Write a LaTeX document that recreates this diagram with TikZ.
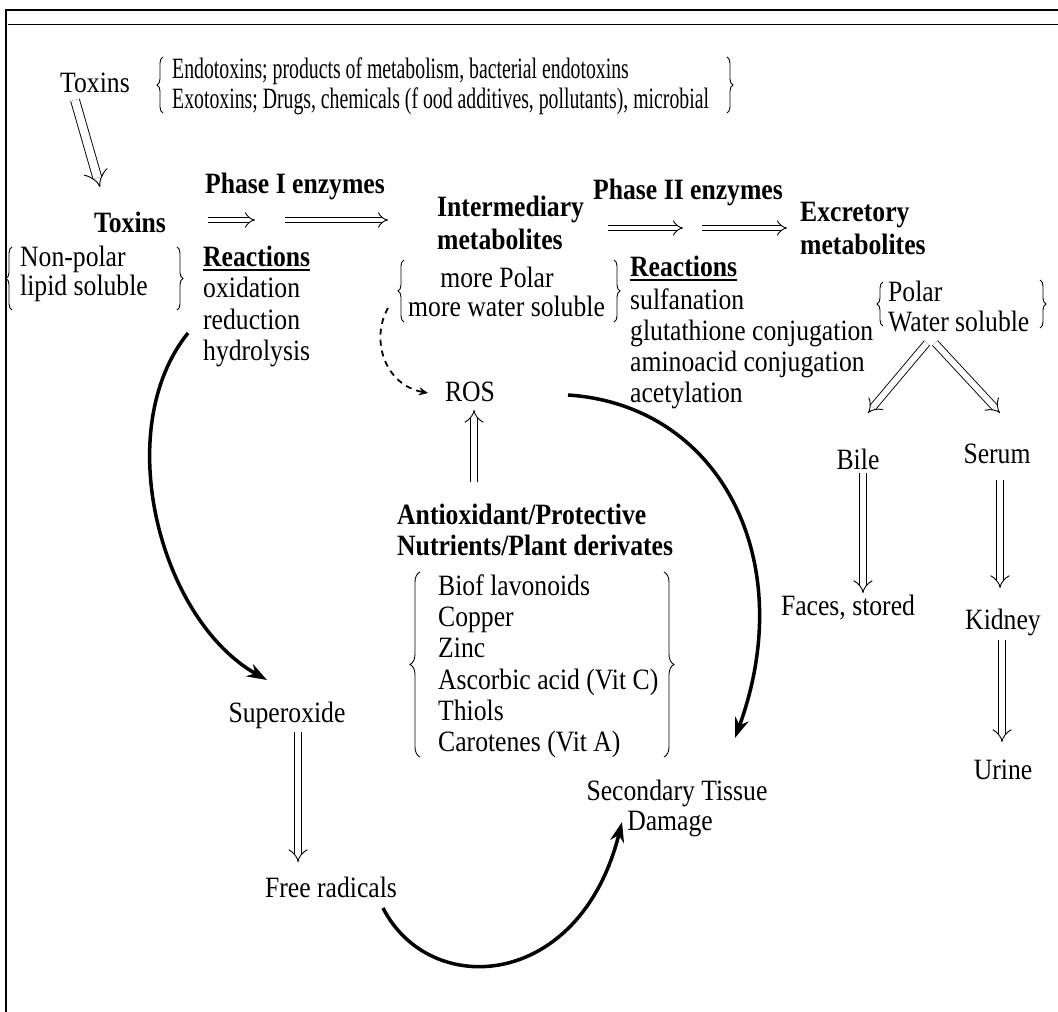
\documentclass[tikz,border=0pt]{standalone}
\usepackage{fontspec}
\setmainfont{Liberation Serif}[FakeStretch=0.87]
\usetikzlibrary{arrows.meta,decorations.pathreplacing}
\begin{document}
\begin{tikzpicture}[x=1pt,y=-1pt,
  txt/.style={inner sep=0pt,font=\fontsize{29.5}{31}\selectfont},
  btxt/.style={inner sep=0pt,font=\fontsize{29.5}{31}\selectfont\bfseries},
  hol/.style={double,double distance=6pt,line width=0.9pt,-{Implies}},
  holbig/.style={double,double distance=8pt,line width=0.9pt,-{Implies}},
  holthin/.style={double,double distance=4.5pt,line width=0.9pt,-{Implies}},
  bigcurve/.style={line width=3.5pt,-{Stealth[length=20pt,width=14pt]}},
  dashcurve/.style={line width=1.8pt,dash pattern=on 6pt off 5pt,-{Stealth[length=9pt,width=8pt]}},
  brc/.style={decorate,decoration={brace,amplitude=6pt},line width=0.9pt},
  brcbig/.style={decorate,decoration={brace,amplitude=10pt},line width=0.9pt}
]
\useasboundingbox (0,0) rectangle (1058,1012);
% frame
\draw[line width=2.5pt] (6,1012) -- (6,10) -- (1058,10);
\draw[line width=1pt] (8,24) -- (1058,24);

% top toxins
\node[txt,anchor=base] (tox0) at (95,92) {Toxins};
\node[txt,anchor=base west] (endo) at (172,78) {\scalebox{0.77}[1]{Endotoxins; products of metabolism, bacterial endotoxins}};
\node[txt,anchor=base west] (exo) at (172,108) {\scalebox{0.77}[1]{Exotoxins; Drugs, chemicals (f ood additives, pollutants), microbial}};
\draw[brc] (163,113) -- (163,57);
\draw[brc] (727,57) -- (727,113);

\node[btxt,anchor=base] (tox1) at (130,232) {Toxins};
\draw[holbig] (75,100) -- (100,187);

\node[btxt,anchor=base] (ph1) at (295,193) {Phase I enzymes};
\draw[holthin] (208,220) -- (255,220);
\draw[holthin] (285,220) -- (388,220);

\node[txt,anchor=base west] (np1) at (20,266) {Non-polar};
\node[txt,anchor=base west] (np2) at (20,295) {lipid soluble};
\draw[brc] (12,310) -- (12,247);
\draw[brc] (177,247) -- (177,310);

\node[btxt,anchor=base west] (re1) at (203,266) {Reactions};
\draw[line width=2pt] ([yshift=-4pt]re1.base west) -- ([yshift=-4pt]re1.base east);
\node[txt,anchor=base west] (ox) at (203,297) {oxidation};
\node[txt,anchor=base west] (rd) at (203,329) {reduction};
\node[txt,anchor=base west] (hy) at (203,360) {hydrolysis};

\node[btxt,anchor=base west] (im1) at (437,216) {Intermediary};
\node[btxt,anchor=base west] (im2) at (437,249) {metabolites};
\node[txt,anchor=base] (mp1) at (497,287) {more Polar};
\node[txt,anchor=base west] (mp2) at (408,316) {more water soluble};
\draw[brc] (404,322) -- (404,260);
\draw[brc] (614,260) -- (614,322);

\node[btxt,anchor=base] (ph2) at (688,199) {Phase II enzymes};
\draw[holthin] (608,228) -- (683,228);
\draw[holthin] (702,228) -- (787,228);

\node[btxt,anchor=base west] (re2) at (630,276) {Reactions};
\draw[line width=2pt] ([yshift=-4pt]re2.base west) -- ([yshift=-4pt]re2.base east);
\node[txt,anchor=base west] (s1) at (630,309) {sulfanation};
\node[txt,anchor=base west] (s2) at (630,340) {glutathione conjugation};
\node[txt,anchor=base west] (s3) at (630,371) {aminoacid conjugation};
\node[txt,anchor=base west] (s4) at (630,402) {acetylation};

\node[btxt,anchor=base west] (ex1) at (800,221) {Excretory};
\node[btxt,anchor=base west] (ex2) at (800,254) {metabolites};
\node[txt,anchor=base west] (po1) at (888,301) {Polar};
\node[txt,anchor=base west] (po2) at (888,331) {Water soluble};
\draw[brc] (883,326) -- (883,282);
\draw[brc] (1040,280) -- (1040,328);

\node[txt,anchor=base] (bile) at (858,469) {Bile};
\node[txt,anchor=base] (serum) at (997,463) {Serum};
\node[txt,anchor=base] (faces) at (848,615) {Faces, stored};
\node[txt,anchor=base] (kid) at (1003,629) {Kidney};
\node[txt,anchor=base] (urine) at (1003,779) {Urine};
\coordinate (vtop1) at (927,343);
\coordinate (vtop2) at (935,343);
\draw[hol] (vtop1) -- (868,413);
\draw[hol] (vtop2) -- (1000,413);
\draw[hol] (863,473) -- (863,593);
\draw[hol] (1000,480) -- (1000,588);
\draw[hol] (1002,640) -- (1002,742);

\node[txt,anchor=base] (ros) at (470,401) {ROS};
\node[btxt,anchor=base west] (an1) at (397,524) {Antioxidant/Protective};
\node[btxt,anchor=base west] (an2) at (397,555) {Nutrients/Plant derivates};
\draw[hol] (474,482) -- (474,410);

\node[txt,anchor=base west] (l1) at (438,595) {Biof lavonoids};
\node[txt,anchor=base west] (l2) at (438,626) {Copper};
\node[txt,anchor=base west] (l3) at (438,657) {Zinc};
\node[txt,anchor=base west] (l4) at (438,689) {Ascorbic acid (Vit C)};
\node[txt,anchor=base west] (l5) at (438,720) {Thiols};
\node[txt,anchor=base west] (l6) at (438,751) {Carotenes (Vit A)};
\draw[brcbig] (420,757) -- (420,572);
\draw[brcbig] (664,572) -- (664,757);

\node[txt,anchor=base] (sup) at (287,722) {Superoxide};
\node[txt,anchor=base] (free) at (331,897) {Free radicals};
\draw[hol] (298,732) -- (298,862);

\node[txt,anchor=base] (sec1) at (677,800) {Secondary Tissue};
\node[txt,anchor=base] (sec2) at (670,830) {Damage};

% curves
\coordinate (c1s) at (188,333);
\coordinate (c1e) at (267,680);
\draw[bigcurve] (c1s) .. controls (110,430) and (160,620) .. (c1e);
\coordinate (c2s) at (568,395);
\coordinate (c2e) at (735,738);
\draw[bigcurve] (c2s) .. controls (720,405) and (800,560) .. (c2e);
\coordinate (c3s) at (383,908);
\coordinate (c3e) at (622,822);
\draw[bigcurve] (c3s) .. controls (430,1000) and (580,990) .. (c3e);
\coordinate (d1s) at (388,308);
\coordinate (d1e) at (428,393);
\draw[dashcurve] (d1s) .. controls (370,340) and (385,385) .. (d1e);
\end{tikzpicture}
\end{document}
